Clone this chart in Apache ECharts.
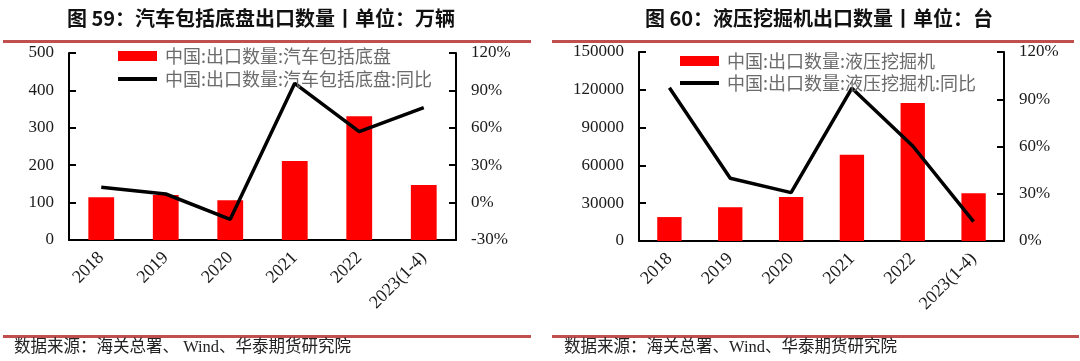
<!DOCTYPE html>
<html>
<head>
<meta charset="utf-8">
<script src="https://cdn.jsdelivr.net/npm/echarts@6/dist/echarts.min.js"></script>
<style>
html,body{margin:0;padding:0;background:#fff;}
#c{width:1080px;height:361px;}
</style>
</head>
<body>
<div id="c"></div>
<script>
// ---- data ----
const categories = ['2018', '2019', '2020', '2021', '2022', '2023(1-4)'];
const autoQty = [114, 120, 106, 211, 331, 147];          // 万辆
const autoYoY = [12.3, 6.9, -13.4, 95.7, 56.9, 76.1];      // %
const excQty = [19000, 26800, 34900, 68500, 109500, 37900]; // 台
const excYoY = [97.3, 39.8, 30.7, 97.0, 60.3, 12.3];       // %

const autoTicksLeft = { min: 0, max: 500, interval: 100 };
const autoTicksRight = { min: -30, max: 120, interval: 30 };
const excTicksLeft = { min: 0, max: 150000, interval: 30000 };
const excTicksRight = { min: 0, max: 120, interval: 30 };

const titles = ['图 59：汽车包括底盘出口数量丨单位：万辆', '图 60：液压挖掘机出口数量丨单位：台'];
const names = [
  ['中国:出口数量:汽车包括底盘', '中国:出口数量:汽车包括底盘:同比'],
  ['中国:出口数量:液压挖掘机', '中国:出口数量:液压挖掘机:同比']
];
const sources = ['数据来源：海关总署、 Wind、华泰期货研究院', '数据来源：海关总署、Wind、华泰期货研究院'];

// ---- chart ----
const serif = '"Liberation Serif", "Noto Sans CJK SC", serif';
const sans = '"Noto Sans CJK SC", sans-serif';
const RED_LINE = '#c0504d';
const axisLabel = { fontFamily: serif, fontSize: 17, color: '#1a1a1a' };

function xAxis(gi) {
  return {
    type: 'category', gridIndex: gi, data: categories,
    axisLine: { lineStyle: { color: '#000', width: 2 } },
    axisTick: { inside: true, length: 6, lineStyle: { color: '#000', width: 2 } },
    axisLabel: Object.assign({ rotate: 45, margin: 15, interval: 0 }, axisLabel, { fontSize: 18 }),
    splitLine: { show: false }
  };
}
function yAxis(gi, t, pos, suffix) {
  return {
    type: 'value', gridIndex: gi, position: pos, min: t.min, max: t.max, interval: t.interval,
    axisLine: { show: true, lineStyle: { color: '#000', width: 2 } },
    axisTick: { show: true, inside: true, length: 7, lineStyle: { color: '#000', width: 2 } },
    axisLabel: Object.assign({ margin: 15, formatter: function (v) { return String(v) + (suffix || ''); } }, axisLabel),
    splitLine: { show: false }
  };
}
function legend(left, top, name, h) {
  return {
    orient: 'vertical', left: left, top: top, padding: 0, itemWidth: 39, itemHeight: h, icon: 'rect',
    data: [name],
    textStyle: { fontFamily: sans, fontSize: 18, color: '#6b6b6b', padding: [0, 0, 0, 3] },
    selectedMode: false
  };
}

const chart = echarts.init(document.getElementById('c'), null, { renderer: 'canvas' });
chart.setOption({
  animation: false,
  backgroundColor: '#fff',
  title: [
    { text: titles[0], left: 256, top: 3, textAlign: 'center',
      textStyle: { fontFamily: sans, fontSize: 20, fontWeight: 'bold', color: '#111' } },
    { text: titles[1], left: 814, top: 3, textAlign: 'center',
      textStyle: { fontFamily: sans, fontSize: 20, fontWeight: 'bold', color: '#111' } }
  ],
  legend: [
    legend(118, 47, names[0][0], 10),
    legend(118, 70, names[0][1], 4),
    legend(680, 52, names[1][0], 10),
    legend(680, 74, names[1][1], 4)
  ],
  grid: [
    { left: 69, top: 53, width: 387, height: 187 },
    { left: 639, top: 52, width: 365, height: 189 }
  ],
  xAxis: [xAxis(0), xAxis(1)],
  yAxis: [
    yAxis(0, autoTicksLeft, 'left'),
    yAxis(0, autoTicksRight, 'right', '%'),
    yAxis(1, excTicksLeft, 'left'),
    yAxis(1, excTicksRight, 'right', '%')
  ],
  series: [
    { name: names[0][0], type: 'bar', xAxisIndex: 0, yAxisIndex: 0, data: autoQty, barWidth: '40%',
      itemStyle: { color: '#ff0000' } },
    { name: names[0][1], type: 'line', xAxisIndex: 0, yAxisIndex: 1, data: autoYoY, symbol: 'none',
      lineStyle: { color: '#000', width: 3.5 }, itemStyle: { color: '#000' } },
    { name: names[1][0], type: 'bar', xAxisIndex: 1, yAxisIndex: 2, data: excQty, barWidth: '40%',
      itemStyle: { color: '#ff0000' } },
    { name: names[1][1], type: 'line', xAxisIndex: 1, yAxisIndex: 3, data: excYoY, symbol: 'none',
      lineStyle: { color: '#000', width: 3.5 }, itemStyle: { color: '#000' } }
  ],
  graphic: [
    { type: 'rect', shape: { x: 3, y: 40, width: 528, height: 3 }, style: { fill: RED_LINE }, silent: true },
    { type: 'rect', shape: { x: 552, y: 40, width: 522, height: 3 }, style: { fill: RED_LINE }, silent: true },
    { type: 'rect', shape: { x: 3, y: 335, width: 528, height: 3 }, style: { fill: RED_LINE }, silent: true },
    { type: 'rect', shape: { x: 552, y: 335, width: 527, height: 3 }, style: { fill: RED_LINE }, silent: true },
    { type: 'text', x: 14, y: 348, style: { text: sources[0], fontFamily: serif, fontSize: 16.5, fill: '#222', verticalAlign: 'middle' } },
    { type: 'text', x: 564, y: 348, style: { text: sources[1], fontFamily: serif, fontSize: 16.5, fill: '#222', verticalAlign: 'middle' } }
  ]
});
</script>
</body>
</html>
